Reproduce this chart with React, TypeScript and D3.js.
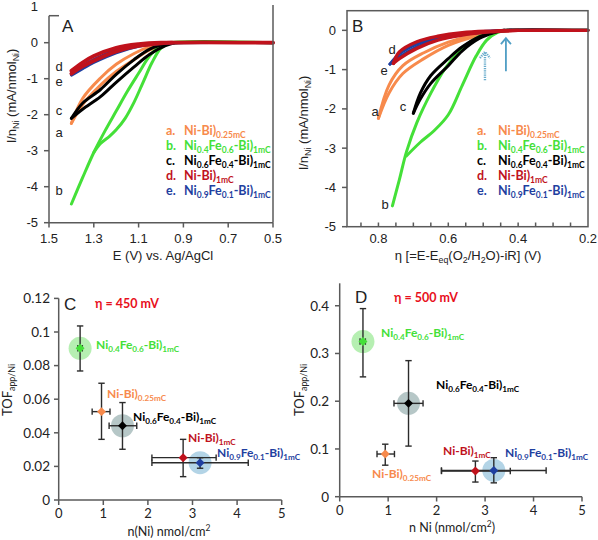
import React from "react";
import * as d3 from "d3";

type Pt = [number, number];
type Part = [string, "n" | "sub" | "sup"];

// ---------- Panel A: I/nNi vs E (V vs Ag/AgCl), CV loops (upper & lower branch) ----------
const A_a_up: Pt[] = [[0.5, 0], [0.95, 0], [0.99, -0.02], [1.05, -0.11], [1.12, -0.3], [1.2, -0.6], [1.27, -0.98], [1.35, -1.55], [1.4, -2.24]];
const A_a_lo: Pt[] = [[1.4, -2.24], [1.35, -1.72], [1.27, -1.18], [1.2, -0.8], [1.12, -0.47], [1.05, -0.2], [0.99, -0.06], [0.94, 0]];
const A_b_up: Pt[] = [[0.5, 0], [0.96, 0], [1.0, -0.08], [1.05, -0.36], [1.1, -0.85], [1.15, -1.35], [1.2, -1.9], [1.25, -2.45], [1.3, -3.05], [1.35, -3.75], [1.4, -4.48]];
const A_b_lo: Pt[] = [[1.3, -3.05], [1.27, -2.8], [1.23, -2.6], [1.2, -2.42], [1.16, -2.1], [1.12, -1.65], [1.08, -1.1], [1.04, -0.55], [1.0, -0.15], [0.96, -0.02], [0.93, 0]];
const A_c_up: Pt[] = [[0.5, 0], [0.95, 0], [0.98, -0.03], [1.05, -0.18], [1.12, -0.47], [1.2, -0.88], [1.27, -1.3], [1.35, -1.68], [1.4, -2.1]];
const A_c_lo: Pt[] = [[1.4, -2.1], [1.35, -1.85], [1.27, -1.5], [1.2, -1.1], [1.12, -0.67], [1.05, -0.32], [0.98, -0.08], [0.94, 0]];
const A_d_up: Pt[] = [[0.5, 0], [1.0, 0], [1.1, -0.04], [1.2, -0.14], [1.3, -0.37], [1.35, -0.55], [1.4, -0.78]];
const A_d_lo: Pt[] = [[1.4, -0.86], [1.35, -0.66], [1.3, -0.5], [1.2, -0.24], [1.1, -0.09], [1.0, -0.02], [0.95, 0]];
const A_e_up: Pt[] = [[0.5, 0], [1.0, -0.01], [1.1, -0.07], [1.2, -0.2], [1.3, -0.47], [1.35, -0.64], [1.4, -0.86]];
const A_e_lo: Pt[] = [[1.4, -0.9], [1.35, -0.72], [1.3, -0.55], [1.2, -0.28], [1.1, -0.1], [1.0, -0.02], [0.95, 0]];

// ---------- Panel B: I/nNi vs overpotential eta (V) ----------
const B_a_up: Pt[] = [[0.2, 0], [0.42, 0], [0.45, -0.02], [0.52, -0.11], [0.6, -0.3], [0.67, -0.57], [0.73, -0.9], [0.77, -1.4], [0.8, -2.24]];
const B_a_lo: Pt[] = [[0.8, -2.24], [0.77, -1.6], [0.73, -1.1], [0.67, -0.72], [0.6, -0.38], [0.52, -0.15], [0.45, -0.03], [0.4, 0]];
const B_b_up: Pt[] = [[0.2, 0], [0.43, 0], [0.45, -0.01], [0.49, -0.08], [0.53, -0.25], [0.57, -0.55], [0.61, -0.98], [0.65, -1.6], [0.69, -2.35], [0.72, -3.1], [0.74, -3.8], [0.76, -4.47]];
const B_b_lo: Pt[] = [[0.72, -3.2], [0.68, -2.85], [0.64, -2.55], [0.6, -2.15], [0.56, -1.4], [0.52, -0.65], [0.49, -0.25], [0.46, -0.06], [0.43, 0]];
const B_c_up: Pt[] = [[0.2, 0], [0.44, 0], [0.47, -0.05], [0.51, -0.16], [0.56, -0.42], [0.6, -0.72], [0.65, -1.15], [0.68, -1.6], [0.7, -2.11]];
const B_c_lo: Pt[] = [[0.7, -2.11], [0.68, -1.75], [0.65, -1.35], [0.6, -0.9], [0.56, -0.52], [0.51, -0.2], [0.47, -0.06], [0.44, 0]];
const B_d_up: Pt[] = [[0.2, 0], [0.4, 0], [0.48, -0.02], [0.56, -0.06], [0.63, -0.15], [0.69, -0.29], [0.74, -0.55], [0.757, -0.84]];
const B_d_lo: Pt[] = [[0.757, -0.84], [0.74, -0.72], [0.69, -0.46], [0.63, -0.25], [0.56, -0.12], [0.48, -0.04], [0.4, 0]];
const B_e_up: Pt[] = [[0.2, 0], [0.42, 0], [0.5, -0.03], [0.56, -0.08], [0.63, -0.19], [0.69, -0.35], [0.74, -0.6], [0.767, -0.86]];
const B_e_lo: Pt[] = [[0.767, -0.86], [0.74, -0.68], [0.69, -0.42], [0.63, -0.23], [0.56, -0.11], [0.48, -0.03], [0.42, 0]];
// arrows: [eta, I bottom, I top]
const B_arrows: [number, number, number][] = [[0.495, -1.27, -0.55], [0.435, -1.04, -0.2]];

// ---------- Panels C & D: TOF vs n(Ni), order: b, a, c, d, e ----------
const TOF_keys = ["b", "a", "c", "d", "e"];
const C_n = [0.48, 0.96, 1.43, 2.79, 3.17];
const C_nLo = [0.43, 0.75, 1.13, 2.09, 2.09];
const C_nHi = [0.53, 1.15, 1.75, 3.53, 4.25];
const C_tof = [0.0903, 0.0526, 0.0442, 0.0252, 0.0222];
const C_tofLo = [0.0768, 0.0361, 0.0302, 0.0139, 0.0189];
const C_tofHi = [0.1036, 0.0695, 0.058, 0.0361, 0.0252];
const D_n = [0.48, 0.94, 1.42, 2.8, 3.18];
const D_nLo = [0.42, 0.77, 1.12, 2.1, 2.1];
const D_nHi = [0.53, 1.13, 1.72, 3.52, 4.26];
const D_tof = [0.325, 0.0894, 0.1955, 0.0538, 0.055];
const D_tofLo = [0.251, 0.066, 0.106, 0.0307, 0.029];
const D_tofHi = [0.394, 0.11, 0.285, 0.0747, 0.0817];
const halo = { b: "#a9eca4", c: "#a9bdbd", e: "#a6cce2" } as Record<string, string>;

const A_xTicks = [1.5, 1.3, 1.1, 0.9, 0.7, 0.5];
const A_yTicks = [1, 0, -1, -2, -3, -4, -5];
const B_xTicks = [0.8, 0.6, 0.4, 0.2];
const B_yTicks = [0, -1, -2, -3, -4, -5];
const C_yTicks = [0, 0.02, 0.04, 0.06, 0.08, 0.1, 0.12];
const D_yTicks = [0, 0.1, 0.2, 0.3, 0.4];
const CD_xTicks = [0, 1, 2, 3, 4, 5];

const COL: Record<string, string> = { a: "#f78a4c", b: "#44e038", c: "#000000", d: "#c0121c", e: "#1f3fa0" };
const LEG_KEYS = ["a", "b", "c", "d", "e"];
const LABELS: Record<string, Part[]> = {
  a: [["Ni-Bi)", "n"], ["0.25mC", "sub"]],
  b: [["Ni", "n"], ["0.4", "sub"], ["Fe", "n"], ["0.6", "sub"], ["-Bi)", "n"], ["1mC", "sub"]],
  c: [["Ni", "n"], ["0.6", "sub"], ["Fe", "n"], ["0.4", "sub"], ["-Bi)", "n"], ["1mC", "sub"]],
  d: [["Ni-Bi)", "n"], ["1mC", "sub"]],
  e: [["Ni", "n"], ["0.9", "sub"], ["Fe", "n"], ["0.1", "sub"], ["-Bi)", "n"], ["1mC", "sub"]],
};

const SANS = "'Liberation Sans', Arial, sans-serif";
const CAL = "Lato, 'Open Sans', sans-serif";
const AX = "#5a5a5a";
const TXT = "#222";

function Rich(props: { x: number; y: number; parts: Part[]; size: number; fill?: string; weight?: string; anchor?: string; family?: string; rotate?: boolean }) {
  const { x, y, parts, size, fill = TXT, weight = "normal", anchor = "start", family = SANS, rotate } = props;
  let cur = 0;
  const spans = parts.map(([t, k], i) => {
    const target = k === "sub" ? size * 0.25 : k === "sup" ? -size * 0.4 : 0;
    const dy = target - cur;
    cur = target;
    return (
      <tspan key={i} dy={dy} fontSize={k === "n" ? size : size * 0.68}>
        {t}
      </tspan>
    );
  });
  return (
    <text x={rotate ? 0 : x} y={rotate ? 0 : y} transform={rotate ? `translate(${x},${y}) rotate(-90)` : undefined}
      fontSize={size} fill={fill} fontWeight={weight} textAnchor={anchor} fontFamily={family}>
      {spans}
    </text>
  );
}

export default function App() {
  // scales
  const xA = d3.scaleLinear().domain([1.5, 0.5]).range([49, 273]);
  const yA = d3.scaleLinear().domain([-5, 0.75]).range([222.7, 15.7]);
  const xB = d3.scaleLinear().domain([0.89, 0.2]).range([347, 588]);
  const yB = d3.scaleLinear().domain([-5, 0.5]).range([226.7, 10.7]);
  const xC = d3.scaleLinear().domain([0, 5]).range([58.7, 281.7]);
  const yC = d3.scaleLinear().domain([0, 0.12]).range([500, 298.4]);
  const xD = d3.scaleLinear().domain([0, 5]).range([339.7, 582]);
  const yD = d3.scaleLinear().domain([0, 0.447]).range([496.7, 283.3]);

  const lineA = d3.line<Pt>().x((d) => xA(d[0])).y((d) => yA(d[1])).curve(d3.curveCatmullRom.alpha(0.5));
  const lineB = d3.line<Pt>().x((d) => xB(d[0])).y((d) => yB(d[1])).curve(d3.curveCatmullRom.alpha(0.5));

  const A_curves: [string, Pt[], Pt[]][] = [["a", A_a_up, A_a_lo], ["b", A_b_up, A_b_lo], ["c", A_c_up, A_c_lo], ["e", A_e_up, A_e_lo], ["d", A_d_up, A_d_lo]];
  const B_curves: [string, Pt[], Pt[]][] = [["a", B_a_up, B_a_lo], ["b", B_b_up, B_b_lo], ["c", B_c_up, B_c_lo], ["e", B_e_up, B_e_lo], ["d", B_d_up, B_d_lo]];

  const curveLabelsA: [string, number, number][] = [["d", 59, 66], ["e", 59, 81], ["c", 59, 110], ["a", 59, 132], ["b", 59, 190]];
  const curveLabelsB: [string, number, number][] = [["d", 392, 49], ["e", 384, 70], ["a", 375, 111], ["c", 403, 106], ["b", 385, 204]];
  const legRows = [131, 146, 161, 176, 191];

  const legend = (lx: number, tx: number) =>
    LEG_KEYS.map((k, i) => (
      <g key={k}>
        <text x={lx} y={legRows[i] + 4.3} fontSize={12.5} fontFamily={CAL} fontWeight="bold" fill={COL[k]}>{k + "."}</text>
        <Rich x={tx} y={legRows[i] + 4.3} parts={LABELS[k]} size={12.5} fill={COL[k]} weight="bold" family={CAL} />
      </g>
    ));

  const diamond = d3.symbol().type(d3.symbolSquare).size(40)() as string;

  const scatter = (
    xs: d3.ScaleLinear<number, number>, ys: d3.ScaleLinear<number, number>,
    n: number[], nLo: number[], nHi: number[], t: number[], tLo: number[], tHi: number[]
  ) => (
    <g>
      {TOF_keys.map((k, i) => halo[k] ? <circle key={"h" + k} cx={xs(n[i])} cy={ys(t[i])} r={11.5} fill={halo[k]} opacity={0.85} /> : null)}
      {TOF_keys.map((k, i) => {
        const cx = xs(n[i]), cy = ys(t[i]);
        const c = 3.2;
        return (
          <g key={"e" + k} stroke="#2b2b2b" strokeWidth={1.4}>
            <line x1={cx} x2={cx} y1={ys(tLo[i])} y2={ys(tHi[i])} />
            <line x1={cx - c} x2={cx + c} y1={ys(tLo[i])} y2={ys(tLo[i])} />
            <line x1={cx - c} x2={cx + c} y1={ys(tHi[i])} y2={ys(tHi[i])} />
            <line x1={xs(nLo[i])} x2={xs(nHi[i])} y1={cy} y2={cy} />
            <line x1={xs(nLo[i])} x2={xs(nLo[i])} y1={cy - c} y2={cy + c} />
            <line x1={xs(nHi[i])} x2={xs(nHi[i])} y1={cy - c} y2={cy + c} />
          </g>
        );
      })}
      {TOF_keys.map((k, i) => (
        <path key={"m" + k} d={diamond} transform={`translate(${xs(n[i])},${ys(t[i])}) rotate(45)`} fill={COL[k]} />
      ))}
    </g>
  );

  const C_lab: Record<string, [number, number]> = { b: [96, 345], a: [107, 394], c: [133, 417], d: [188, 438], e: [217, 453] };
  const D_lab: Record<string, [number, number]> = { b: [381, 333], c: [436, 385], a: [372, 474], d: [443, 451], e: [505, 453] };

  return (
    <svg width={598} height={540} style={{ position: "absolute", left: 0, top: 0, background: "#fff" }}>
      <rect width={598} height={540} fill="#fff" />
      {/* ================= Panel A ================= */}
      <g>
        {A_curves.map(([k, up, lo]) => (
          <g key={k} fill="none" stroke={COL[k]} strokeWidth={k === "d" ? 3.8 : 3} strokeLinecap="round">
            <path d={lineA(up) as string} />
            <path d={lineA(lo) as string} />
          </g>
        ))}
        <g stroke={AX} strokeWidth={1.5} fill="none">
          <line x1={49} x2={49} y1={15.7} y2={222.7} />
          <line x1={49} x2={59} y1={15.7} y2={15.7} />
          <line x1={49} x2={273} y1={222.7} y2={222.7} />
          <line x1={273} x2={273} y1={5} y2={222.7} />
          {A_yTicks.filter((t) => t <= 0).map((t) => <line key={t} x1={44} x2={49} y1={yA(t)} y2={yA(t)} />)}
          {A_xTicks.map((t) => <line key={t} x1={xA(t)} x2={xA(t)} y1={222.7} y2={227.5} />)}
        </g>
        {A_yTicks.map((t) => (
          <text key={t} x={38} y={yA(t) + 4.6} textAnchor="end" fontSize={13} fontFamily={SANS} fill={TXT}>{t}</text>
        ))}
        {A_xTicks.map((t) => (
          <text key={t} x={xA(t)} y={242.5} textAnchor="middle" fontSize={13} fontFamily={SANS} fill={TXT}>{t.toFixed(1)}</text>
        ))}
        <text x={163} y={259.5} textAnchor="middle" fontSize={13} fontFamily={SANS} fill={TXT}>E (V) vs. Ag/AgCl</text>
        <Rich x={16} y={96} rotate anchor="middle" size={13} parts={[["I/n", "n"], ["Ni", "sub"], [" (mA/nmol", "n"], ["Ni", "sub"], [")", "n"]]} />
        <text x={62} y={32} fontSize={17} fontFamily={SANS} fill={TXT}>A</text>
        {curveLabelsA.map(([k, x, y]) => (
          <text key={k} x={x} y={y + 4.5} textAnchor="middle" fontSize={13} fontFamily={SANS} fill={TXT}>{k}</text>
        ))}
        {legend(166, 184)}
      </g>

      {/* ================= Panel B ================= */}
      <g>
        {B_curves.map(([k, up, lo]) => (
          <g key={k} fill="none" stroke={COL[k]} strokeWidth={k === "d" ? 3.4 : 3} strokeLinecap="round">
            <path d={lineB(up) as string} />
            <path d={lineB(lo) as string} />
          </g>
        ))}
        {B_arrows.map(([eta, i0, i1], j) => {
          const x = xB(eta), y0 = yB(i0), y1 = yB(i1);
          return (
            <g key={j} stroke="#4f9ec4" strokeWidth={j === 0 ? 2.4 : 1.8} fill="none" strokeDasharray={j === 0 ? "1.2,1" : undefined} opacity={j === 0 ? 0.85 : 1}>
              <line x1={x} x2={x} y1={y0} y2={y1} />
              <polyline points={`${x - 5},${y1 + 6} ${x},${y1} ${x + 5},${y1 + 6}`} />
            </g>
          );
        })}
        <g stroke={AX} strokeWidth={1.5} fill="none">
          <rect x={347} y={10.7} width={241} height={216} />
          {B_yTicks.map((t) => <line key={t} x1={342} x2={347} y1={yB(t)} y2={yB(t)} />)}
          {d3.range(0.25, 0.88, 0.05).map((t) => <line key={t} x1={xB(t)} x2={xB(t)} y1={222.5} y2={226.7} />)}
        </g>
        {B_yTicks.map((t) => (
          <text key={t} x={336} y={yB(t) + 4.6} textAnchor="end" fontSize={13} fontFamily={SANS} fill={TXT}>{t}</text>
        ))}
        {B_xTicks.map((t) => (
          <text key={t} x={xB(t)} y={242.5} textAnchor="middle" fontSize={13} fontFamily={SANS} fill={TXT}>{t.toFixed(1)}</text>
        ))}
        <Rich x={468} y={259.5} anchor="middle" size={13} parts={[["η [=E-E", "n"], ["eq", "sub"], ["(O", "n"], ["2", "sub"], ["/H", "n"], ["2", "sub"], ["O)-iR] (V)", "n"]]} />
        <Rich x={308} y={123} rotate anchor="middle" size={13} parts={[["I/n", "n"], ["Ni", "sub"], [" (mA/nmol", "n"], ["Ni", "sub"], [")", "n"]]} />
        <text x={352} y={32} fontSize={17} fontFamily={SANS} fill={TXT}>B</text>
        {curveLabelsB.map(([k, x, y]) => (
          <text key={k} x={x} y={y + 4.5} textAnchor="middle" fontSize={13} fontFamily={SANS} fill={TXT}>{k}</text>
        ))}
        {legend(477, 498)}
      </g>

      {/* ================= Panel C ================= */}
      <g>
        <g stroke={AX} strokeWidth={1.5} fill="none">
          <line x1={58.7} x2={58.7} y1={298.4} y2={500} />
          <line x1={58.7} x2={281.7} y1={500} y2={500} />
          {C_yTicks.map((t) => <line key={t} x1={54} x2={58.7} y1={yC(t)} y2={yC(t)} />)}
          {CD_xTicks.map((t) => <line key={t} x1={xC(t)} x2={xC(t)} y1={500} y2={505} />)}
        </g>
        {C_yTicks.map((t) => (
          <text key={t} x={50} y={yC(t) + 4.8} textAnchor="end" fontSize={13.5} fontFamily={CAL} fill={TXT}>{t}</text>
        ))}
        {CD_xTicks.map((t) => (
          <text key={t} x={xC(t)} y={518} textAnchor="middle" fontSize={13} fontFamily={CAL} fill={TXT}>{t}</text>
        ))}
        <Rich x={169} y={536} anchor="middle" size={12.5} family={CAL} parts={[["n(Ni) nmol/cm", "n"], ["2", "sup"]]} />
        <Rich x={12} y={390} rotate anchor="middle" size={13} family={CAL} parts={[["TOF", "n"], ["app/Ni", "sub"]]} />
        <text x={64} y={309.5} fontSize={17} fontFamily={SANS} fill={TXT}>C</text>
        <text x={95} y={308} fontSize={12.5} fontFamily={CAL} fontWeight="bold" fill="#e8101c">η = 450 mV</text>
        {scatter(xC, yC, C_n, C_nLo, C_nHi, C_tof, C_tofLo, C_tofHi)}
        {TOF_keys.map((k) => (
          <Rich key={k} x={C_lab[k][0]} y={C_lab[k][1] + 4} parts={LABELS[k]} size={12} fill={COL[k]} weight="bold" family={CAL} />
        ))}
      </g>

      {/* ================= Panel D ================= */}
      <g>
        <g stroke={AX} strokeWidth={1.5} fill="none">
          <line x1={339.7} x2={339.7} y1={283.3} y2={496.7} />
          <line x1={339.7} x2={582} y1={496.7} y2={496.7} />
          {D_yTicks.map((t) => <line key={t} x1={335} x2={339.7} y1={yD(t)} y2={yD(t)} />)}
          {CD_xTicks.map((t) => <line key={t} x1={xD(t)} x2={xD(t)} y1={496.7} y2={501.5} />)}
        </g>
        {D_yTicks.map((t) => (
          <text key={t} x={329} y={yD(t) + 4.8} textAnchor="end" fontSize={13.5} fontFamily={CAL} fill={TXT}>{t}</text>
        ))}
        {CD_xTicks.map((t) => (
          <text key={t} x={xD(t)} y={515} textAnchor="middle" fontSize={13} fontFamily={CAL} fill={TXT}>{t}</text>
        ))}
        <Rich x={452} y={532} anchor="middle" size={12.5} family={CAL} parts={[["n Ni (nmol/cm", "n"], ["2", "sup"], [")", "n"]]} />
        <Rich x={304} y={390} rotate anchor="middle" size={13} family={CAL} parts={[["TOF", "n"], ["app/Ni", "sub"]]} />
        <text x={355} y={303} fontSize={17} fontFamily={SANS} fill={TXT}>D</text>
        <text x={394} y={301.5} fontSize={12.5} fontFamily={CAL} fontWeight="bold" fill="#e8101c">η = 500 mV</text>
        {scatter(xD, yD, D_n, D_nLo, D_nHi, D_tof, D_tofLo, D_tofHi)}
        {TOF_keys.map((k) => (
          <Rich key={k} x={D_lab[k][0]} y={D_lab[k][1] + 4} parts={LABELS[k]} size={12} fill={COL[k]} weight="bold" family={CAL} />
        ))}
      </g>
    </svg>
  );
}
